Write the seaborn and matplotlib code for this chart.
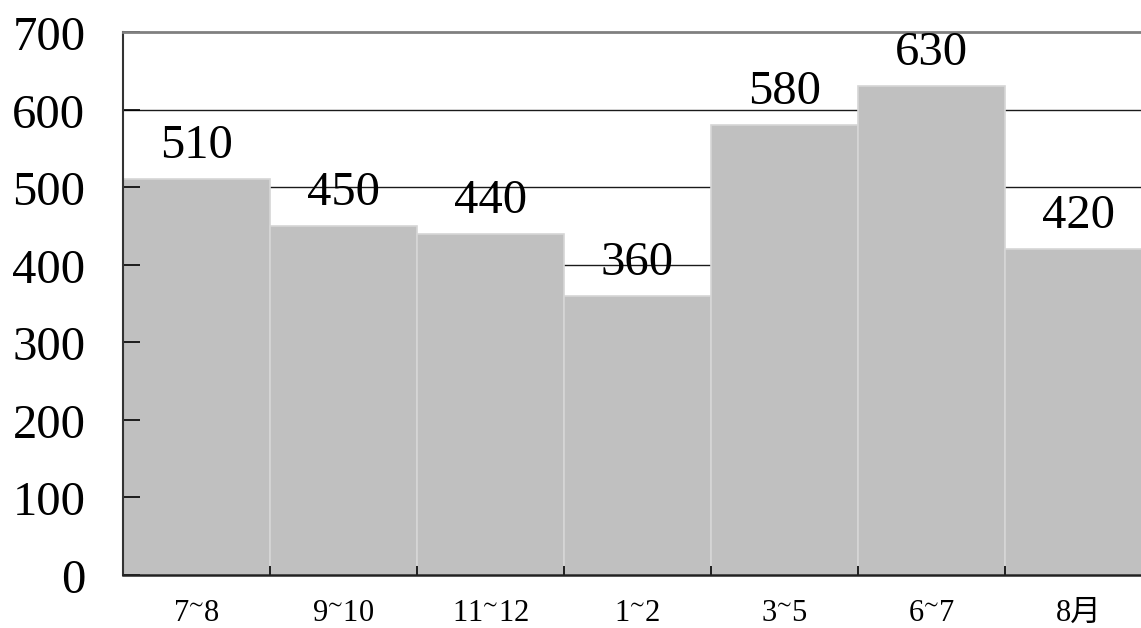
import matplotlib
matplotlib.use("Agg")
import matplotlib.pyplot as plt
import matplotlib.transforms as mtransforms
import seaborn as sns
import pandas as pd
import numpy as np

categories = ["7$^{\u223c}$8", "9$^{\u223c}$10", "11$^{\u223c}$12", "1$^{\u223c}$2",
              "3$^{\u223c}$5", "6$^{\u223c}$7", "8月"]
values = [510, 450, 440, 360, 580, 630, 420]
yticks = [0, 100, 200, 300, 400, 500, 600, 700]

sns.set_theme(style="white")
plt.rcParams['font.family'] = ['Liberation Serif', 'Noto Sans CJK SC', 'DejaVu Sans']
plt.rcParams['mathtext.fontset'] = 'custom'
plt.rcParams['mathtext.rm'] = 'Liberation Serif'
plt.rcParams['mathtext.it'] = 'Liberation Serif'

df = pd.DataFrame({"cat": categories, "val": values})

fig = plt.figure(figsize=(11.41, 6.28), dpi=100)
ax = fig.add_axes([123/1141, 53/628, 1029/1141, 543/628])

sns.barplot(data=df, x="cat", y="val", ax=ax, color="#c0c0c0", saturation=1,
            width=1.0, edgecolor="#d6d6d6", linewidth=1.2, zorder=2)
ax.set_axisbelow(False)

ax.set_ylim(0, 700)
ax.set_xlim(-0.5, len(categories) - 0.5)
ax.set_yticks(yticks)
ax.set_yticklabels([str(t) for t in yticks], fontsize=35, color="black")
ax.set_xticks(range(len(categories)))
ax.set_xticklabels(categories, fontsize=22, color="black")
ax.set_xticks(np.arange(len(categories)) - 0.5, minor=True)
ax.tick_params(left=True, bottom=True, which="both")
ax.tick_params(axis="x", which="major", length=0, pad=17)
ax.tick_params(axis="x", which="minor", direction="in", length=6.5, width=1.2, color="black")
ax.tick_params(axis="y", which="major", direction="in", length=12, width=1.2, color="black", pad=27)
ax.set_xlabel("")
ax.set_ylabel("")

offset = mtransforms.ScaledTranslation(0, -1/100, fig.dpi_scale_trans)
for lab in ax.get_yticklabels():
    lab.set_transform(lab.get_transform() + offset)

for t in yticks[1:-1]:
    ax.axhline(t, color="#1a1a1a", lw=1.0, zorder=1)

ax.spines["top"].set_color("#808080")
ax.spines["top"].set_linewidth(2)
ax.spines["left"].set_color("#333333")
ax.spines["left"].set_linewidth(1.5)
ax.spines["bottom"].set_color("#222222")
ax.spines["bottom"].set_linewidth(1.8)
ax.spines["right"].set_visible(False)
for s in ax.spines.values():
    s.set_zorder(3)

for i, v in enumerate(values):
    ax.annotate(str(v), (i, v), xytext=(0, 8), textcoords="offset points",
                ha="center", va="bottom", fontsize=35, color="black", zorder=4)

fig.savefig("out.png", dpi=100)
